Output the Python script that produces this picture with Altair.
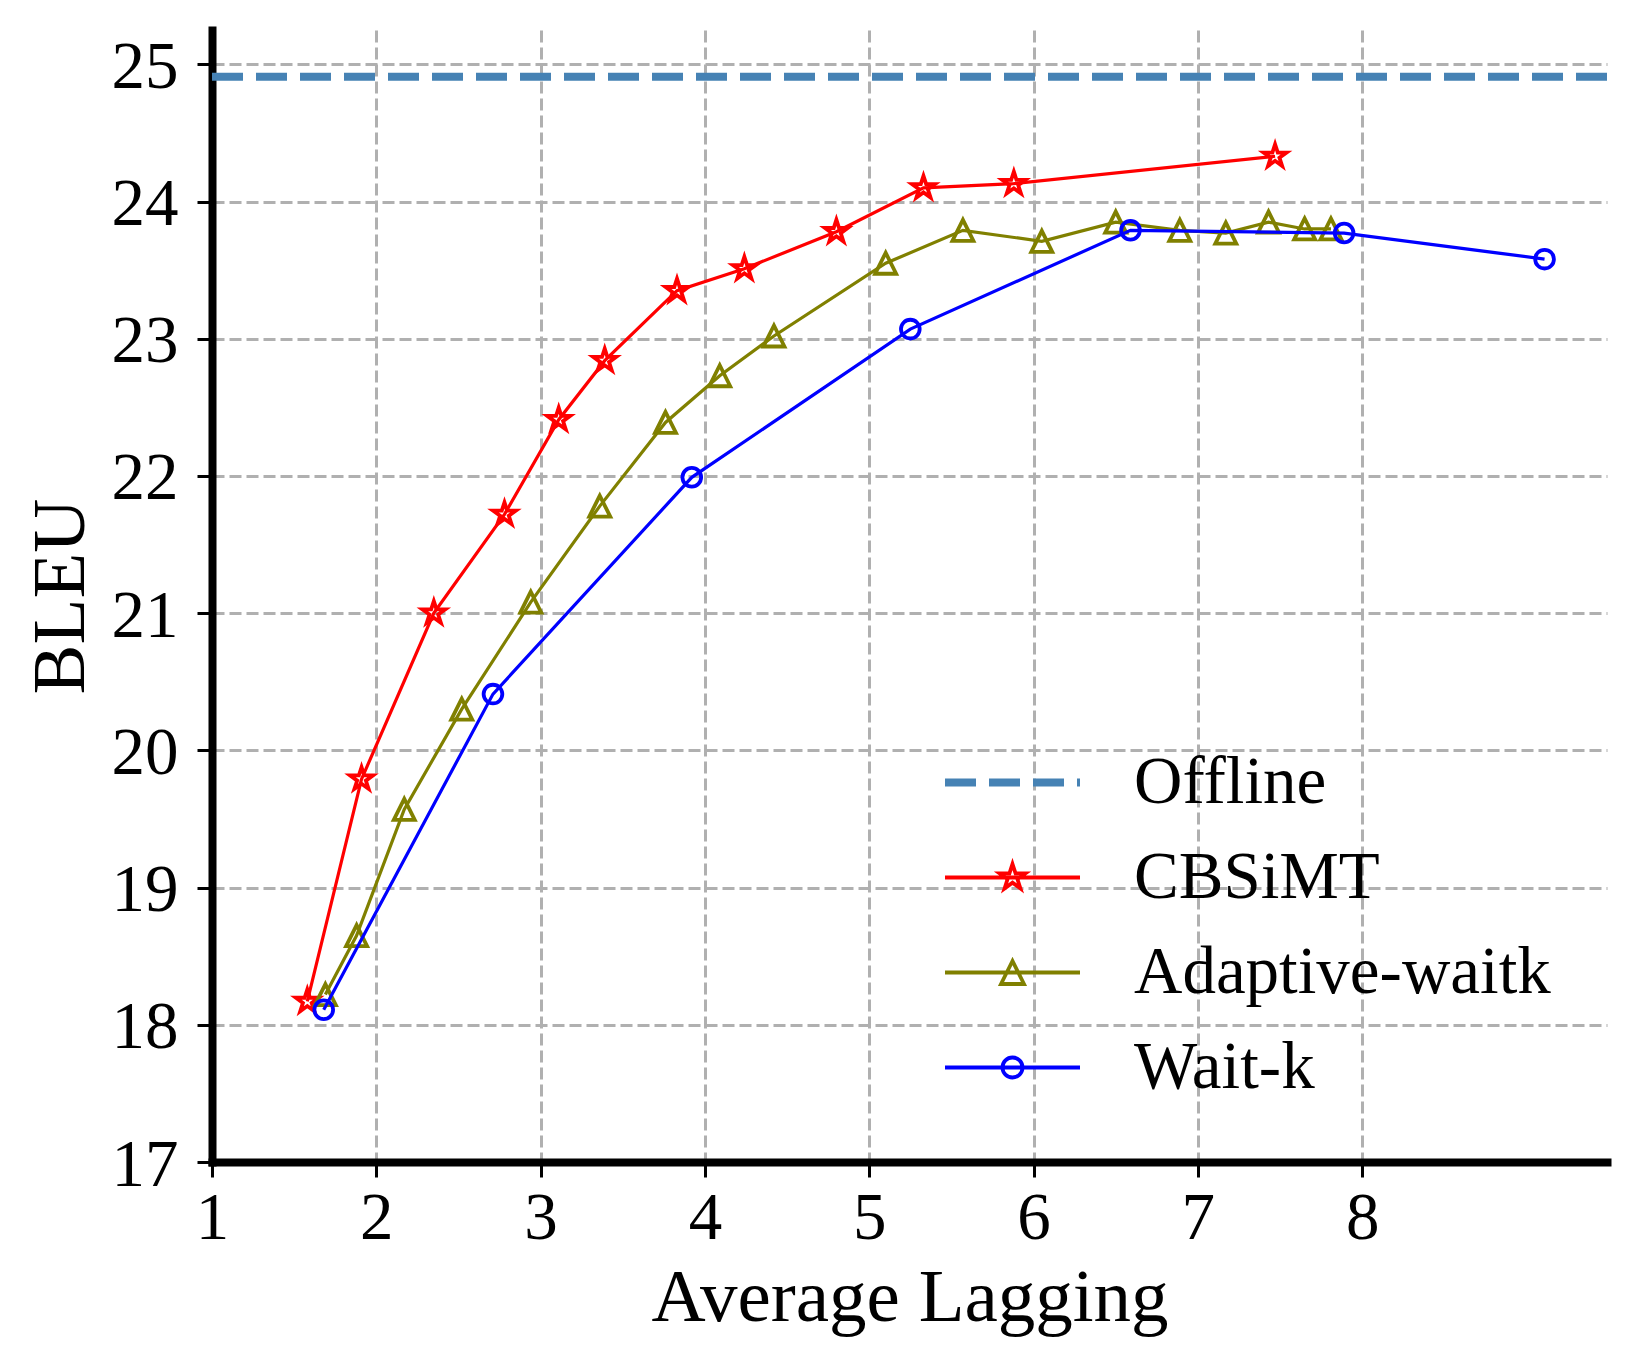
import math
import altair as alt
import pandas as pd

# ---------------- data ----------------
series_names = ["Offline", "CBSiMT", "Adaptive-waitk", "Wait-k"]
series_colors = ["#4682b4", "#ff0000", "#808000", "#0000ff"]

offline_bleu = [24.91]

cbsimt_al = [1.58, 1.91, 2.35, 2.78, 3.11, 3.39, 3.83, 4.24, 4.80, 5.33, 5.88, 7.47]
cbsimt_bleu = [18.17, 19.79, 21.00, 21.72, 22.41, 22.84, 23.35, 23.51, 23.78, 24.10, 24.13, 24.33]

adaptive_al = [1.69, 1.88, 2.17, 2.52, 2.94, 3.36, 3.76, 4.09, 4.42, 5.10, 5.57, 6.05,
               6.50, 6.89, 7.17, 7.43, 7.65, 7.81]
adaptive_bleu = [18.22, 18.65, 19.57, 20.30, 21.08, 21.78, 22.39, 22.73, 23.02, 23.55, 23.79, 23.71,
                 23.85, 23.79, 23.77, 23.85, 23.80, 23.80]

waitk_al = [1.68, 2.71, 3.92, 5.25, 6.59, 7.89, 9.11]
waitk_bleu = [18.11, 20.41, 21.99, 23.07, 23.79, 23.77, 23.58]

x_ticks = [1, 2, 3, 4, 5, 6, 7, 8]
y_ticks = [17, 18, 19, 20, 21, 22, 23, 24, 25]
x_domain = [1, 9.49]
y_domain = [17, 25.25]

FONT = "Liberation Serif"

# ---------------- marker shapes ----------------
def star_path(r, inner=0.382):
    pts = []
    for k in range(10):
        a = math.radians(-90 + 36 * k)
        rr = r if k % 2 == 0 else r * inner
        pts.append((rr * math.cos(a), rr * math.sin(a)))
    return "M" + "L".join(f"{x:.4f},{y:.4f}" for x, y in pts) + "Z"


def tri_path(r):
    return f"M0,{-r:.4f}L{-r:.4f},{r:.4f}L{r:.4f},{r:.4f}Z"


def circle_path(r):
    return f"M{r:.4f},0A{r:.4f},{r:.4f} 0 1,1 {-r:.4f},0A{r:.4f},{r:.4f} 0 1,1 {r:.4f},0Z"


# legend symbols: one unit = 15 px (symbolSize 900)
U = 15.0
seg = f"M{-67.5 / U:.4f},0L{67.5 / U:.4f},0"
dash_px = [(-67.5, -36.5), (-23.5, 7.5), (20.5, 51.5), (64.5, 67.5)]
offline_sym = "".join(
    f"M{a / U:.4f},{dy / U:.4f}L{b / U:.4f},{dy / U:.4f}"
    for a, b in dash_px for dy in (-2.2, 0.0, 2.2)
)
legend_shapes = [
    offline_sym,
    seg + star_path(13.5 / U),
    seg + tri_path(11.5 / U),
    seg + circle_path(10.0 / U),
]

# ---------------- tables ----------------
cb_df = pd.DataFrame({"al": cbsimt_al, "bleu": cbsimt_bleu})
ad_df = pd.DataFrame({"al": adaptive_al, "bleu": adaptive_bleu})
wk_df = pd.DataFrame({"al": waitk_al, "bleu": waitk_bleu})
off_df = pd.DataFrame({"bleu": offline_bleu})
leg_df = pd.DataFrame({"series": series_names})

xs = alt.Scale(domain=x_domain, nice=False, zero=False)
ys = alt.Scale(domain=y_domain, nice=False, zero=False)

x_axis = alt.Axis(values=x_ticks, title="Average Lagging", format="d",
                  labelPadding=8, titlePadding=10, labelFlush=False)
y_axis = alt.Axis(values=y_ticks, title="BLEU", format="d",
                  labelPadding=19, titlePadding=12, labelOffset=3, labelFlush=False)

X = alt.X("al:Q", scale=xs, axis=x_axis)
Y = alt.Y("bleu:Q", scale=ys, axis=y_axis)

offline = alt.Chart(off_df).mark_rule(
    color="#4682b4", strokeWidth=8, strokeDash=[31, 13]
).encode(y=alt.Y("bleu:Q", scale=ys, axis=y_axis))


def series_layers(df, color, shape, size):
    line = alt.Chart(df).mark_line(color=color, strokeWidth=3.2).encode(x=X, y=Y)
    pts = alt.Chart(df).mark_point(
        shape=shape, size=size, filled=False, color=color, strokeWidth=3.8, opacity=1
    ).encode(x=X, y=Y)
    return [line, pts]


layers = [offline]
layers += series_layers(cb_df, "#ff0000", star_path(1.0), 576)
layers += series_layers(ad_df, "#808000", tri_path(1.0), 441)
layers += series_layers(wk_df, "#0000ff", "circle", 350)

leg = alt.Legend(
    title=None, orient="none", legendX=767, legendY=719, padding=0,
    labelFont=FONT, labelFontSize=67, labelColor="black", labelOffset=88,
    symbolSize=900, symbolStrokeWidth=3.8, symbolOpacity=1,
    symbolFillColor="transparent", rowPadding=27, labelLimit=1000,
)

legend_layer = alt.Chart(leg_df).mark_point(filled=False, opacity=0).encode(
    color=alt.Color("series:N", scale=alt.Scale(domain=series_names, range=series_colors), legend=leg),
    shape=alt.Shape("series:N", scale=alt.Scale(domain=series_names, range=legend_shapes), legend=leg),
)
layers.append(legend_layer)

chart = alt.layer(*layers).properties(
    width=1395, height=1132,
    background="white",
    autosize=alt.AutoSizeParams(type="none"),
    padding={"left": 204, "top": 22, "right": 21, "bottom": 190},
).configure_view(strokeWidth=0).configure_axis(
    labelFont=FONT, labelFontSize=67, labelColor="black",
    titleFont=FONT, titleFontSize=75, titleFontWeight="normal", titleColor="black",
    domainColor="black", domainWidth=8, domainCap="square",
    tickColor="black", tickWidth=3, tickSize=15,
    grid=True, gridColor="#b0b0b0", gridDash=[12, 5], gridWidth=3,
)

chart.save("out.html", embed_options={"renderer": "svg", "actions": False})
